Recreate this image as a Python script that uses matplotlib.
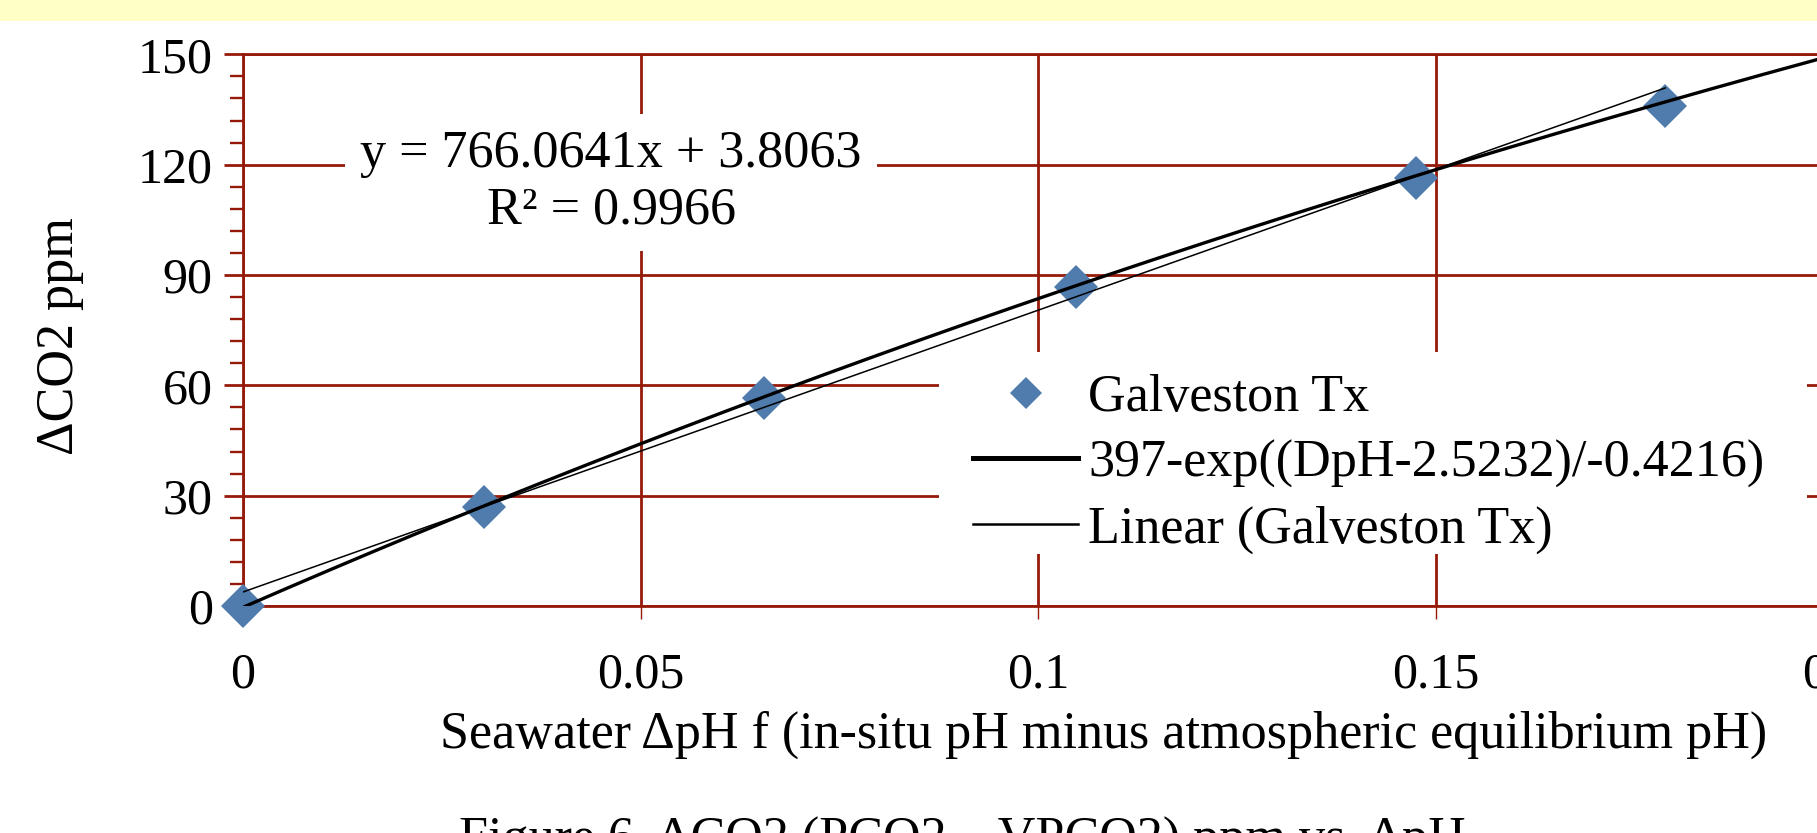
import numpy as np
import matplotlib
matplotlib.use("Agg")
import matplotlib.pyplot as plt
from matplotlib.patches import Rectangle
from matplotlib.lines import Line2D

plt.rcParams['font.family'] = ['Liberation Serif', 'DejaVu Serif']

# data
dph = [0.0, 0.0303, 0.0655, 0.1048, 0.1476, 0.1789]
dco2 = [0.0, 26.8, 56.6, 86.7, 116.3, 135.9]

# fitted curves printed on the chart
lin_slope, lin_icpt = 766.0641, 3.8063
exp_a, exp_b, exp_c = 397.0, 2.5232, -0.4216

xticks = [0, 0.05, 0.1, 0.15, 0.2]
xlabels = ['0', '0.05', '0.1', '0.15', '0.2']
yticks = [0, 30, 60, 90, 120, 150]
legend_labels = ['Galveston Tx', '397-exp((DpH-2.5232)/-0.4216)', 'Linear (Galveston Tx)']

red = '#961a0a'
blue = '#4f7cac'
fs = 37.5
tfs = 36

W, H = 1817, 833
fig = plt.figure(figsize=(W / 100, H / 100), dpi=100)
fig.patch.set_facecolor('white')

# yellow strip across the top
fig.patches.append(Rectangle((0, 1 - 21 / H), 1, 21 / H, transform=fig.transFigure,
                             facecolor='#ffffc6', edgecolor='none', zorder=0))

ax = fig.add_axes([243 / W, (H - 606) / H, 1590 / W, 551.7 / H])
ax.set_xlim(0, 0.2)
ax.set_ylim(0, 150)

xx = np.linspace(0, 0.2, 300)
xl = np.linspace(min(dph), max(dph), 50)
ax.plot(dph, dco2, linestyle='none', marker='D', ms=22, color=blue,
        markeredgewidth=0, zorder=3, clip_on=False)
ax.plot(xx, exp_a - np.exp((xx - exp_b) / exp_c), color='black', lw=2.4, zorder=4)
ax.plot(xl, lin_slope * xl + lin_icpt, color='black', lw=1.1, zorder=4)

ax.set_xticks(xticks)
ax.set_xticklabels(xlabels)
ax.set_yticks(yticks)
ax.set_yticks(np.arange(0, 151, 6), minor=True)
ax.grid(True, which='major', color=red, lw=2.0, zorder=1)
ax.set_axisbelow(True)
for s in ax.spines.values():
    s.set_color(red)
    s.set_linewidth(2.0)
ax.tick_params(axis='y', which='major', direction='out', length=13.7, width=2.0,
               color=red, labelsize=tfs, pad=8)
ax.tick_params(axis='y', which='minor', direction='out', length=9.5, width=1.7, color=red)
ax.tick_params(axis='x', which='major', direction='out', length=9, width=1.0,
               color=red, labelsize=tfs, pad=24)
ax.tick_params(axis='x', which='minor', length=0)

ax.set_xlabel('Seawater \u0394pH f (in-situ pH minus atmospheric equilibrium pH)',
              fontsize=fs, va='center')
ax.xaxis.set_label_coords((1104 - 243) / 1590, -(735 - 606) / 551.7)
ax.set_ylabel('\u0394CO2 ppm', fontsize=fs, va='center')
ax.yaxis.set_label_coords(-(243 - 60) / 1590, (606 - 336) / 551.7)

# trendline equation box
ax.text(0.0463, 115.2, 'y = 766.0641x + 3.8063\nR\u00b2 = 0.9966', fontsize=fs,
        ha='center', va='center', multialignment='center', linespacing=1.25,
        zorder=5, bbox=dict(boxstyle='square,pad=0.3', facecolor='white', edgecolor='none'))

# white block behind the legend, then the legend itself
fig.patches.append(Rectangle((939 / W, 1 - 554 / H), (1807 - 939) / W, (554 - 352) / H,
                             transform=fig.transFigure, facecolor='white',
                             edgecolor='none', zorder=2.5))
h_pts = Line2D([], [], linestyle='none', marker='D', ms=16.5, color=blue, markeredgewidth=0)
h_exp = Line2D([], [], color='black', lw=3.6)
h_lin = Line2D([], [], color='black', lw=1.8)
leg = fig.legend([h_pts, h_exp, h_lin], legend_labels,
                 loc='upper left', bbox_to_anchor=(973 / W, 1 - 374 / H),
                 bbox_transform=fig.transFigure, fontsize=fs, frameon=False,
                 handlelength=2.02, handletextpad=0.19, labelspacing=0.34,
                 borderpad=0, borderaxespad=0)
leg.set_zorder(6)

fig.text(962 / W, 1 - 817 / H, 'Figure 6. \u0394CO2 (PCO2 \u2013 VPCO2) ppm vs. \u0394pH',
         fontsize=fs, ha='center', va='top')

fig.savefig('out.png', dpi=100)
